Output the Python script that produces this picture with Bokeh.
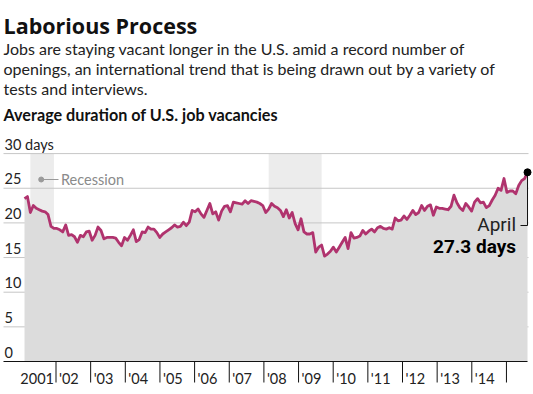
import numpy as np
from bokeh.plotting import figure
from bokeh.models import Range1d
from bokeh.core.properties import value
from bokeh.embed import file_html
from bokeh.resources import INLINE

# ---------------- data ----------------
# Average duration of U.S. job vacancies, monthly, Jan 2001 .. Apr 2015 (days)
vacancy_days = [
    23.5, 23.8, 21.5, 22.5, 22.1, 21.9, 21.7, 21.6, 21.2, 19.5,
    19.2, 19.2, 19.0, 18.7, 19.7, 18.2, 18.3, 18.0, 17.2, 18.2,
    18.0, 18.7, 18.8, 17.5, 18.2, 19.4, 18.9, 17.7, 17.9, 17.9,
    17.9, 17.8, 17.2, 16.7, 17.9, 17.5, 18.2, 19.0, 17.3, 17.6,
    18.7, 18.6, 19.4, 19.1, 19.1, 18.6, 17.9, 18.4, 18.7, 19.0,
    19.3, 19.7, 19.4, 19.5, 20.1, 19.6, 20.1, 21.8, 21.6, 22.0,
    21.3, 20.8, 21.8, 22.8, 21.3, 21.6, 20.4, 21.7, 22.4, 22.5,
    21.6, 23.0, 22.9, 22.8, 22.7, 23.2, 22.8, 23.2, 23.1, 23.0,
    22.8, 22.5, 21.5, 22.0, 22.8, 22.4, 22.2, 21.8, 20.9, 21.9,
    20.7, 21.5, 19.9, 19.0, 20.6, 18.7, 18.4, 18.4, 18.6, 15.8,
    16.5, 16.8, 15.2, 15.5, 15.9, 16.5, 15.8, 16.5, 17.2, 17.9,
    16.3, 18.6, 17.8, 17.9, 18.1, 18.9, 18.4, 18.8, 19.1, 18.7,
    19.3, 19.5, 19.2, 19.1, 19.3, 19.1, 20.7, 20.3, 20.4, 21.0,
    20.5, 21.1, 21.8, 21.2, 21.5, 22.5, 21.8, 22.4, 22.6, 21.1,
    22.3, 22.1, 22.1, 22.0, 21.9, 22.4, 24.0, 22.9, 22.2, 21.8,
    22.8, 22.3, 21.7, 23.0, 23.5, 22.9, 23.0, 22.2, 22.5, 23.3,
    24.0, 25.0, 24.7, 26.4, 24.4, 24.6, 24.6, 24.2, 25.4, 26.1,
    26.4, 27.3,
]
start_year = 2001
# recessions as (year, month)
recession_start = [(2001, 3), (2007, 12)]
recession_end = [(2001, 11), (2009, 6)]

y_ticks = [0, 5, 10, 15, 20, 25, 30]
y_tick_labels = ["0", "5", "10", "15", "20", "25", "30 days"]
year_labels = ["2001", "'02", "'03", "'04", "'05", "'06", "'07", "'08",
               "'09", "'10", "'11", "'12", "'13", "'14"]

title = "Laborious Process"
subtitle_lines = [
    "Jobs are staying vacant longer in the U.S. amid a record number of",
    "openings, an international trend that is being drawn out by a variety of",
    "tests and interviews.",
]
chart_title = "Average duration of U.S. job vacancies"
end_label_month = "April"
end_label_value = "27.3 days"

# ---------------- layout helpers ----------------
W, H = 533, 394
PX_PER_YEAR = 35.3          # pixels per year
X0_REF = 24.0               # pixel of Jan 2001
PX_PER_DAY = 6.93           # pixels per day on y axis
Y0_REF = 361.0              # pixel of y = 0


def hx(px):
    return start_year + (px - X0_REF) / PX_PER_YEAR


def vy(py):
    return (Y0_REF - py) / PX_PER_DAY


def ym(y, m):
    return y + (m - 1) / 12.0


x = start_year + np.arange(len(vacancy_days)) / 12.0
rs = [ym(*r) for r in recession_start]
re_ = [ym(*r) for r in recession_end]

NARROW = "Lato"
WIDE = "Roboto"

p = figure(width=W, height=H,
           x_range=Range1d(hx(0), hx(W)),
           y_range=Range1d(vy(H), vy(0)),
           output_backend="svg", toolbar_location=None,
           x_axis_type=None, y_axis_type=None,
           min_border=0, outline_line_color=None,
           background_fill_color="white", border_fill_color="white")
p.grid.visible = False


def add_text(xs, ys, texts, font, size, color, align="left",
             baseline="alphabetic", style="normal", lift=0.0):
    # lift: upward nudge in pixels to correct renderer baseline placement
    p.text(x=xs, y=[y + lift / PX_PER_DAY for y in ys], text=texts,
           text_font=value(font), text_font_size=value(size),
           text_color=color, text_align=align, text_baseline=baseline,
           text_font_style=style)


# recession bands
p.quad(left=rs, right=re_, bottom=0, top=30,
       fill_color="#ececec", line_color=None)

# gridlines
p.segment(x0=hx(3), x1=hx(528), y0=y_ticks[1:], y1=y_ticks[1:],
          line_color="#c6c6c6", line_width=1)

# area and line
p.varea(x=x, y1=0, y2=vacancy_days, fill_color="#dcdcdc")
p.line(x, vacancy_days, line_color="#b0336e", line_width=2.8,
       line_join="round")

# x axis baseline
p.segment(x0=[hx(3)], x1=[hx(527)], y0=[0], y1=[0],
          line_color="#111111", line_width=1.2)

# year separators
sep_px = [55.5 + 34.65 * k for k in range(len(year_labels))]
sep = [hx(s) for s in sep_px]
p.segment(x0=sep, x1=sep, y0=0, y1=vy(382), line_color="#111111",
          line_width=1)

LBL_Y = vy(383)
add_text([hx(53.5)], [LBL_Y], year_labels[:1], NARROW, "14.5px", "#222222",
         align="right", lift=5.5)
add_text([hx(s + 3) for s in sep_px[:-1]], [LBL_Y] * (len(year_labels) - 1),
         year_labels[1:], NARROW, "14.5px", "#222222", lift=5.5)

# y labels (sit just above their gridline)
add_text([hx(4)] * len(y_ticks), [v + 3.8 / PX_PER_DAY for v in y_ticks],
         y_tick_labels, NARROW, "14.5px", "#222222", lift=5.5)

# recession legend
p.scatter([hx(40.7)], [vy(179)], size=5, color="#9a9a9a")
p.segment(x0=[hx(41)], x1=[hx(58)], y0=[vy(179)], y1=[vy(179)],
          line_color="#9a9a9a", line_width=1)
add_text([hx(60.5)], [vy(184)], ["Recession"], NARROW, "14.5px", "#8a8a8a",
         lift=5.5)

# end annotation
xe, ve = x[-1], vacancy_days[-1]
p.segment(x0=[xe, hx(520)], x1=[xe, xe], y0=[ve, vy(225)], y1=[vy(225), vy(225)],
          line_color="#111111", line_width=1)
p.scatter([xe], [ve], size=7, color="#000000")
add_text([hx(515.5)], [vy(230.5)], [end_label_month], WIDE, "19px",
         "#222222", align="right", lift=7)
add_text([hx(515.5)], [vy(253)], [end_label_value], WIDE, "19px",
         "#000000", align="right", style="bold", lift=7)

# titles
add_text([hx(3)], [vy(28)], [title], "Open Sans", "21.5px", "#111111",
         style="bold", lift=3)
add_text([hx(3)] * 3, [vy(54.5 + 20 * i) for i in range(3)], subtitle_lines,
         NARROW, "16px", "#222222", lift=6.5)
add_text([hx(3)], [vy(119.5)], [chart_title], NARROW, "16.2px", "#111111",
         style="bold", lift=6)

open("out.html", "w").write(file_html(p, INLINE))
